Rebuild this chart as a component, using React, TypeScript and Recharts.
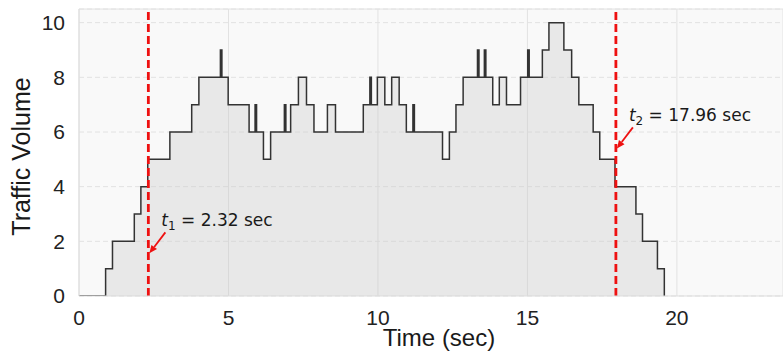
import {
  AreaChart, Area, XAxis, YAxis, CartesianGrid, ReferenceLine, ReferenceDot,
} from 'recharts';

// step change points of the traffic count (value holds until the next time)
const TIMES = [
  0, 0.89, 1.12, 1.85, 2.07, 2.3, 3.04, 3.77, 4.01, 4.73, 4.78, 4.99,
  5.69, 5.89, 5.94, 6.17, 6.41, 6.87, 6.92, 7.08, 7.34, 7.61, 7.86, 8.31,
  8.58, 9.51, 9.73, 9.78, 9.98, 10.23, 10.46, 10.71, 10.95, 11.17, 11.22,
  12.16, 12.39, 12.61, 12.85, 13.33, 13.38, 13.56, 13.61, 13.84, 14.06,
  14.3, 14.77, 15.01, 15.06, 15.5, 15.72, 16.22, 16.48, 16.72, 17.2, 17.42,
  17.93, 18.63, 18.85, 19.35, 19.58,
];
const VOLUMES = [
  0, 1, 2, 3, 4, 5, 6, 7, 8, 9, 8, 7,
  6, 7, 6, 5, 6, 7, 6, 7, 8, 7, 6, 7,
  6, 7, 8, 7, 8, 7, 8, 7, 6, 7, 6,
  5, 6, 7, 8, 9, 8, 9, 8, 7, 8,
  7, 8, 9, 8, 9, 10, 9, 8, 7, 6, 5,
  4, 3, 2, 1, 0,
];

const X_TICKS = [0, 5, 10, 15, 20];
const Y_TICKS = [0, 2, 4, 6, 8, 10];

const MARKERS = [
  { t: 2.32, sub: '1', label: '2.32 sec', arrowAt: 1.56 },
  { t: 17.96, sub: '2', label: '17.96 sec', arrowAt: 5.4 },
];

const data = TIMES.map((t, i) => ({ t, v: VOLUMES[i] }));

const AXIS_FONT = '"Liberation Sans", Arial, sans-serif';
const RED = '#ee1111';

function noteContent(sub: string, label: string) {
  return (props: any) => {
    const vb = props.viewBox;
    const x = vb.x + vb.width / 2 + 1;
    const y = vb.y + vb.height / 2;
    const tx = x + 16;
    const ty = y - 21;
    const dx = x - tx;
    const dy = y - ty;
    const len = Math.hypot(dx, dy);
    const ux = dx / len;
    const uy = dy / len;
    const bx = x - ux * 8;
    const by = y - uy * 8;
    const head = `${x},${y} ${bx - uy * 3.5},${by + ux * 3.5} ${bx + uy * 3.5},${by - ux * 3.5}`;
    return (
      <g>
        <line x1={tx} y1={ty} x2={bx} y2={by} stroke={RED} strokeWidth={1.8} />
        <polygon points={head} fill={RED} />
        <text x={x + 12} y={y - 27} fontFamily="DejaVu Sans" fontSize={17} fill="#1a1a1a">
          <tspan fontStyle="italic">t</tspan>
          <tspan fontSize={12} dy={4}>{sub}</tspan>
          <tspan dy={-4}>{' = ' + label}</tspan>
        </text>
      </g>
    );
  };
}

export default function App() {
  return (
    <div
      style={{
        position: 'fixed', left: 0, top: 0, width: 783, height: 364,
        overflow: 'hidden', background: '#fff',
      }}
    >
      <AreaChart
        width={783}
        height={364}
        data={data}
        margin={{ top: 9, right: 0, bottom: 0, left: 0 }}
      >
        <CartesianGrid
          vertical={false}
          strokeDasharray="5 3"
          stroke="#e2e2e2"
          fill="#f9f9f9"
          fillOpacity={1}
        />
        <CartesianGrid horizontal={false} stroke="#e2e2e2" />
        <XAxis
          type="number"
          dataKey="t"
          domain={[0, 23.55]}
          ticks={X_TICKS}
          allowDataOverflow
          height={68}
          tickSize={0}
          tickMargin={14}
          axisLine={{ stroke: '#dddddd' }}
          tick={{ fontSize: 21, fill: '#222', fontFamily: AXIS_FONT }}
          label={{
            content: () => (
              <text
                x={439}
                y={346}
                textAnchor="middle"
                fontSize={24}
                fontFamily={AXIS_FONT}
                fill="#1a1a1a"
              >
                Time (sec)
              </text>
            ),
          }}
        />
        <YAxis
          type="number"
          domain={[0, 10.5]}
          ticks={Y_TICKS}
          allowDataOverflow
          width={79}
          tickSize={0}
          tickMargin={14}
          axisLine={{ stroke: '#dddddd' }}
          tick={{ fontSize: 21, fill: '#222', fontFamily: AXIS_FONT }}
          label={{
            content: (p: any) => {
              const cy = p.viewBox.y + p.viewBox.height / 2 + 4;
              return (
                <text
                  x={30}
                  y={cy}
                  transform={`rotate(-90, 30, ${cy})`}
                  textAnchor="middle"
                  fontSize={25}
                  fontFamily={AXIS_FONT}
                  fill="#1a1a1a"
                >
                  Traffic Volume
                </text>
              );
            },
          }}
        />
        <ReferenceLine y={10.5} stroke="#e2e2e2" />
        <Area
          type="stepAfter"
          dataKey="v"
          stroke="#333333"
          strokeWidth={1.5}
          fill="#c8c8c8"
          fillOpacity={0.35}
          baseValue={0}
          dot={false}
          activeDot={false}
          isAnimationActive={false}
        />
        {MARKERS.map((m) => (
          <ReferenceLine
            key={'l' + m.t}
            x={m.t}
            stroke={RED}
            strokeWidth={2.8}
            strokeDasharray="8 4"
          />
        ))}
        {MARKERS.map((m) => (
          <ReferenceDot
            key={'d' + m.t}
            x={m.t}
            y={m.arrowAt}
            r={0}
            fill="none"
            stroke="none"
            label={{ content: noteContent(m.sub, m.label) }}
          />
        ))}
      </AreaChart>
    </div>
  );
}
